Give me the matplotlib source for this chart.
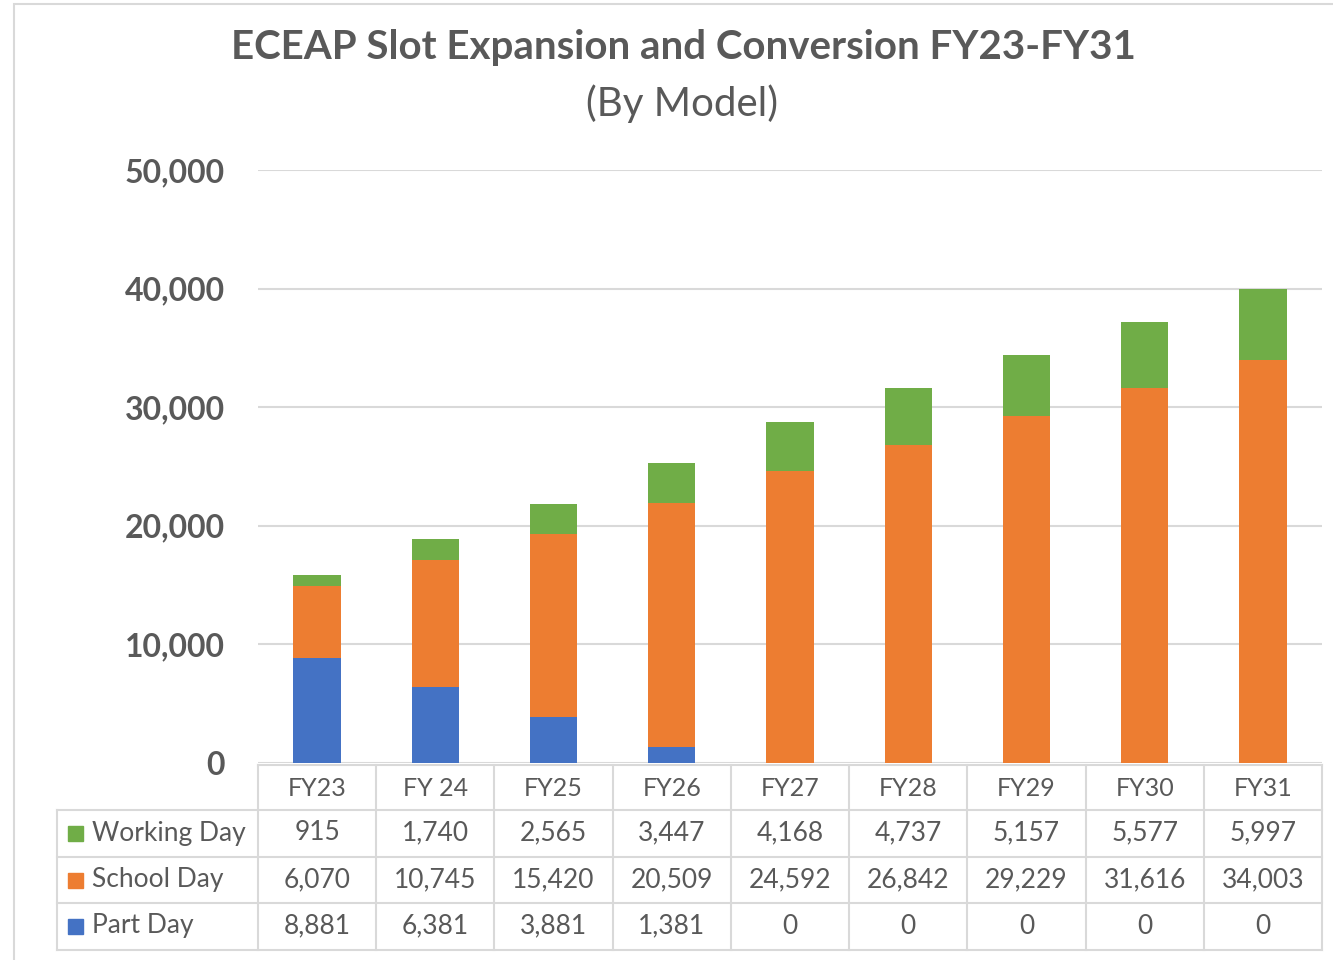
import matplotlib
matplotlib.use("Agg")
import matplotlib.pyplot as plt
from matplotlib.transforms import blended_transform_factory
from matplotlib.lines import Line2D
from matplotlib.patches import Rectangle

plt.rcParams['font.family'] = ['Lato', 'DejaVu Sans']

years = ["FY23", "FY 24", "FY25", "FY26", "FY27", "FY28", "FY29", "FY30", "FY31"]
working_day = [915, 1740, 2565, 3447, 4168, 4737, 5157, 5577, 5997]
school_day = [6070, 10745, 15420, 20509, 24592, 26842, 29229, 31616, 34003]
part_day = [8881, 6381, 3881, 1381, 0, 0, 0, 0, 0]

c_blue = "#4472C4"
c_orange = "#ED7D31"
c_green = "#70AD47"
txt = "#595959"
grid = "#D9D9D9"

W, H = 1333, 960
fig = plt.figure(figsize=(W / 100, H / 100), dpi=100)
ax = fig.add_axes([258 / W, 1 - 763 / H, (1322 - 258) / W, (763 - 170) / H])

x = list(range(len(years)))
bw = 0.4
ax.bar(x, part_day, bw, color=c_blue, zorder=3)
ax.bar(x, school_day, bw, bottom=part_day, color=c_orange, zorder=3)
bottom3 = [a + b for a, b in zip(part_day, school_day)]
ax.bar(x, working_day, bw, bottom=bottom3, color=c_green, zorder=3)

ax.set_xlim(-0.5, len(years) - 0.5)
ax.set_ylim(0, 50000)
ax.set_yticks(range(0, 50001, 10000))
ax.set_yticklabels([f"{v:,}" for v in range(0, 50001, 10000)],
                   fontsize=23, fontweight='bold', color=txt)
ax.tick_params(axis='y', length=0, pad=24)
ax.set_xticks([])
for s in ax.spines.values():
    s.set_visible(False)
ax.yaxis.grid(True, color=grid, linewidth=1.5, zorder=0)
ax.set_axisbelow(True)

# data table under the chart
tr = blended_transform_factory(ax.transData, fig.transFigure)
def fy(py):
    return 1 - py / H

lab_x = -2.2
rows_y = [765, 810, 857, 903, 950]
lkw = dict(color=grid, linewidth=1.5, transform=tr, clip_on=False)
fig.add_artist(Line2D([-0.5, 8.5], [fy(765)] * 2, **lkw))
for py in rows_y[1:]:
    fig.add_artist(Line2D([lab_x, 8.5], [fy(py)] * 2, **lkw))
fig.add_artist(Line2D([lab_x, lab_x], [fy(810), fy(950)], **lkw))
for i in range(len(years) + 1):
    fig.add_artist(Line2D([i - 0.5, i - 0.5], [fy(765), fy(950)], **lkw))

for i, yr in enumerate(years):
    fig.text(i, fy(788), yr, transform=tr, ha='center', va='center',
             fontsize=18, color=txt)

series = [("Working Day", working_day, c_green, 833),
          ("School Day", school_day, c_orange, 880),
          ("Part Day", part_day, c_blue, 926)]
for name, vals, col, py in series:
    fig.add_artist(Rectangle((68 / W, fy(py) - 8 / H), 15 / W, 15 / H,
                             transform=fig.transFigure, color=col))
    fig.text(92 / W, fy(py), name, ha='left', va='center', fontsize=19, color=txt)
    for i, v in enumerate(vals):
        fig.text(i, fy(py), f"{v:,}", transform=tr, ha='center', va='center',
                 fontsize=19, color=txt)

fig.text(0.513, fy(48), "ECEAP Slot Expansion and Conversion FY23-FY31",
         ha='center', va='center', fontsize=29, fontweight='bold', color=txt)
fig.text(0.512, fy(104), "(By Model)", ha='center', va='center',
         fontsize=29, color=txt)

# outer chart frame
fig.add_artist(Rectangle((14 / W, -0.1), 1.2, fy(4) + 0.1,
                         transform=fig.transFigure, fill=False,
                         edgecolor=grid, linewidth=1.5))

fig.savefig("out.png", dpi=100)
